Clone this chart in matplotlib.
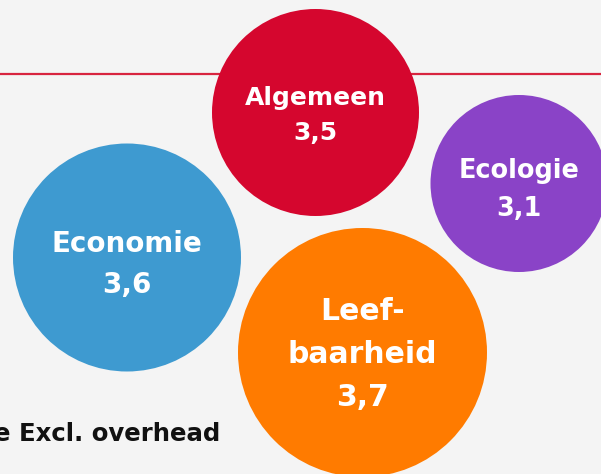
import matplotlib
matplotlib.use("Agg")
import matplotlib.pyplot as plt
from matplotlib.patches import Circle

# data
categories = ["Algemeen", "Ecologie", "Economie", "Leef-\nbaarheid"]
scores = [3.5, 3.1, 3.6, 3.7]
footer_text = "e Excl. overhead"

# layout (pixel coordinates, y downwards)
centers_x = [315.5, 519.0, 127.0, 362.5]
centers_y = [112.5, 183.5, 257.5, 352.5]
radii = [103.5, 88.5, 114.0, 124.5]
label_dy = [3, 7, 7, 2]
font_sizes = [18.0, 18.4, 20.0, 21.5]
colors = ["#d5062e", "#8a43c7", "#3e9ad0", "#ff7b00"]

W, H = 601, 474
fig = plt.figure(figsize=(W / 100, H / 100), dpi=100)
fig.patch.set_facecolor("#f4f4f4")
ax = fig.add_axes([0, 0, 1, 1])
ax.set_facecolor("#f4f4f4")
ax.set_xlim(0, W)
ax.set_ylim(H, 0)
ax.set_aspect("equal")
ax.axis("off")

ax.plot([0, W], [73.5, 73.5], color="#d8243f", lw=1.6, zorder=1, solid_capstyle="butt")

for cat, val, cx, cy, r, dy, fs, c in zip(categories, scores, centers_x, centers_y,
                                          radii, label_dy, font_sizes, colors):
    ax.add_patch(Circle((cx, cy), r, facecolor=c, edgecolor="none", zorder=2))
    label = f"{cat}\n{val:.1f}".replace(".", ",")
    ax.text(cx, cy + dy, label, ha="center", va="center", color="white",
            fontsize=fs, fontweight="bold", family="DejaVu Sans",
            linespacing=1.6, zorder=3)

ax.text(-6, 441, footer_text, ha="left", va="baseline", color="#111111",
        fontsize=17.6, fontweight="bold", family="DejaVu Sans", zorder=3)

fig.savefig("out.png", dpi=100, facecolor=fig.get_facecolor())
